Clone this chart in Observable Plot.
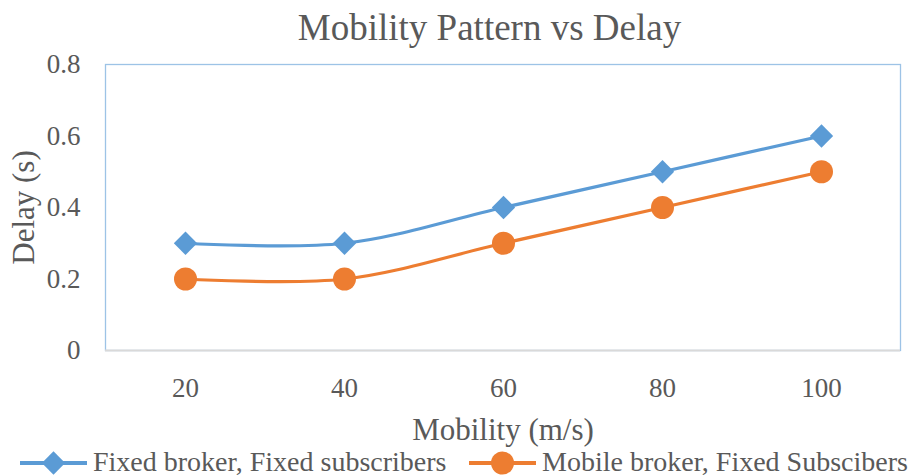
<!DOCTYPE html>
<html>
<head>
<meta charset="utf-8">
<script src="https://cdn.jsdelivr.net/npm/d3@7"></script>
<script src="https://cdn.jsdelivr.net/npm/@observablehq/plot@0.6"></script>
<style>
  html, body { margin: 0; padding: 0; background: #fff; }
  #wrap { position: relative; width: 909px; height: 476px; font-family: "Liberation Serif", serif; color: #595959; }
  #title { position: absolute; left: 0; width: 979px; top: 6px; text-align: center; font-size: 37px; color: #595959; font-family: "Liberation Serif", serif; }
  #chart { position: absolute; left: 0; top: 0; }
  #chart svg text { font-family: "Liberation Serif", serif !important; fill: #595959; }
  #legend { position: absolute; left: 0; top: 449px; width: 909px; height: 28px; font-size: 28px; color: #595959; font-family: "Liberation Serif", serif; }
  .item { position: absolute; top: 0; white-space: nowrap; line-height: 28px; }
  .item svg { position: absolute; left: 0; top: 0; }
  .item span { position: absolute; top: -1px; }
</style>
</head>
<body>
<div id="wrap">
  <div id="title">Mobility Pattern vs Delay</div>
  <div id="chart"></div>
  <div id="legend"></div>
</div>
<script>
const mobility = [20, 40, 60, 80, 100];
const seriesNames = ["Fixed broker, Fixed subscribers", "Mobile broker, Fixed Subscibers"];
const fixedBroker = [0.3, 0.3, 0.4, 0.5, 0.6];
const mobileBroker = [0.2, 0.2, 0.3, 0.4, 0.5];
const yTicks = [0, 0.2, 0.4, 0.6, 0.8];
const colors = ["#5B9BD5", "#ED7D31"];

const rows = [];
mobility.forEach((m, i) => {
  rows.push({mobility: m, delay: fixedBroker[i], series: seriesNames[0]});
  rows.push({mobility: m, delay: mobileBroker[i], series: seriesNames[1]});
});
const blue = rows.filter(d => d.series === seriesNames[0]);
const orange = rows.filter(d => d.series === seriesNames[1]);

const chart = Plot.plot({
  width: 909,
  height: 476,
  marginTop: 64,
  marginBottom: 126,
  marginLeft: 105,
  marginRight: 9,
  style: {fontFamily: "Liberation Serif, serif", fontSize: "27px", color: "#595959", background: "transparent"},
  x: {type: "point", domain: mobility, padding: 0.5},
  y: {domain: [0, 0.8]},
  marks: [
    Plot.frame({stroke: "#9DC3E6", strokeWidth: 1.3}),
    Plot.ruleY([0], {stroke: "#D9D9D9", strokeWidth: 2}),
    Plot.axisY({ticks: yTicks, tickSize: 0, tickPadding: 25, tickFormat: d => String(d), fontSize: 27, label: null}),
    Plot.axisY({ticks: [], tickSize: 0, label: "Delay (s)", labelArrow: "none", labelAnchor: "center", labelOffset: 94, fontSize: 31}),
    Plot.axisX({tickSize: 0, tickPadding: 27, fontSize: 27, label: null}),
    Plot.axisX({ticks: [], tickSize: 0, label: "Mobility (m/s)", labelAnchor: "center", labelOffset: 89, fontSize: 31}),
    Plot.line(blue, {x: "mobility", y: "delay", stroke: colors[0], strokeWidth: 3.2, curve: "catmull-rom"}),
    Plot.line(orange, {x: "mobility", y: "delay", stroke: colors[1], strokeWidth: 3.2, curve: "catmull-rom"}),
    Plot.dot(blue, {x: "mobility", y: "delay", symbol: "diamond2", r: 10.5, fill: colors[0], stroke: "none"}),
    Plot.dot(orange, {x: "mobility", y: "delay", symbol: "circle", r: 11.5, fill: colors[1], stroke: "none"})
  ]
});
document.getElementById("chart").appendChild(chart);

// legend
const legend = document.getElementById("legend");
const legendPos = [{left: 20, text: 93}, {left: 469, text: 542}];
seriesNames.forEach((name, i) => {
  const item = document.createElement("div");
  item.className = "item";
  item.style.left = legendPos[i].left + "px";
  const svg = d3.create("svg").attr("width", 70).attr("height", 28);
  svg.append("line").attr("x1", 0).attr("x2", 67).attr("y1", 14).attr("y2", 14).attr("stroke", colors[i]).attr("stroke-width", 4);
  const sym = i === 0 ? d3.symbolDiamond2 : d3.symbolCircle;
  const size = i === 0 ? Math.PI * 10.5 * 10.5 : Math.PI * 11.5 * 11.5;
  svg.append("path").attr("d", d3.symbol(sym, size)()).attr("transform", "translate(33.5,14)").attr("fill", colors[i]);
  item.appendChild(svg.node());
  const span = document.createElement("span");
  span.style.left = (legendPos[i].text - legendPos[i].left) + "px";
  span.textContent = name;
  item.appendChild(span);
  legend.appendChild(item);
});
</script>
</body>
</html>
